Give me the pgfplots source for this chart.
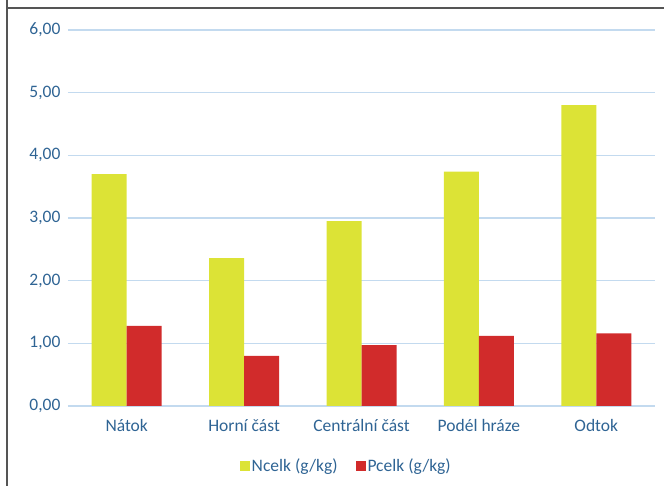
\documentclass[border=0pt]{standalone}
\usepackage{pgfplots}
\pgfplotsset{compat=1.18}
\usepackage{fontspec}
\setmainfont{Carlito}

\definecolor{ncelk}{HTML}{DCE336}
\definecolor{pcelk}{HTML}{D12B2B}
\definecolor{labelblue}{HTML}{2F6494}
\definecolor{gridblue}{HTML}{C3DAEF}
\definecolor{framegray}{HTML}{555555}

\begin{document}
\begin{tikzpicture}[x=1pt,y=1pt]
  \path[use as bounding box] (0,0) rectangle (664,486);
  % outer frame (top and left edges)
  \draw[framegray, line width=1.4pt] (7,486) -- (7,478) -- (664,478);
  \draw[framegray, line width=1.4pt] (7,478) -- (7,0);

  \begin{axis}[
    at={(68pt,80pt)}, anchor=south west,
    scale only axis,
    width=587pt, height=376pt,
    xmin=-0.5, xmax=4.5,
    ymin=0, ymax=6,
    ybar=0pt, bar width=35pt,
    axis line style={draw=none},
    tick style={draw=none},
    ymajorgrids,
    grid style={gridblue, line width=1.1pt},
    ytick={0,1,2,3,4,5,6},
    xtick={0,1,2,3,4},
    xticklabels={Nátok, Horní část, Centrální část, Podél hráze, Odtok},
    /pgf/number format/.cd, fixed, fixed zerofill, precision=2, use comma, assume math mode=true,
    /pgfplots/.cd,
    yticklabel style={font=\fontsize{17.5}{19}\selectfont, text=labelblue, xshift=-4pt},
    xticklabel style={font=\fontsize{17.5}{19}\selectfont, text=labelblue, yshift=-6pt},
    legend style={at={(0.474,-0.16)}, anchor=center, draw=none, fill=none,
      legend columns=2, font=\fontsize{17.5}{19}\selectfont, text=labelblue},
    legend image code/.code={\fill[ncelk] (0pt,-5pt) rectangle (10pt,5pt);},
  ]
    \addplot[fill=ncelk, draw=none] coordinates {(0,3.70) (1,2.36) (2,2.95) (3,3.74) (4,4.80)};
    % second key square sits a little to the right, leaving a gap between entries
    \addplot[fill=pcelk, draw=none,
      legend image code/.code={\path (0pt,0pt); \fill[pcelk] (16pt,-5pt) rectangle (26pt,5pt);}]
      coordinates {(0,1.28) (1,0.80) (2,0.97) (3,1.12) (4,1.16)};
    \legend{Ncelk (g/kg), Pcelk (g/kg)}
  \end{axis}
\end{tikzpicture}
\end{document}
